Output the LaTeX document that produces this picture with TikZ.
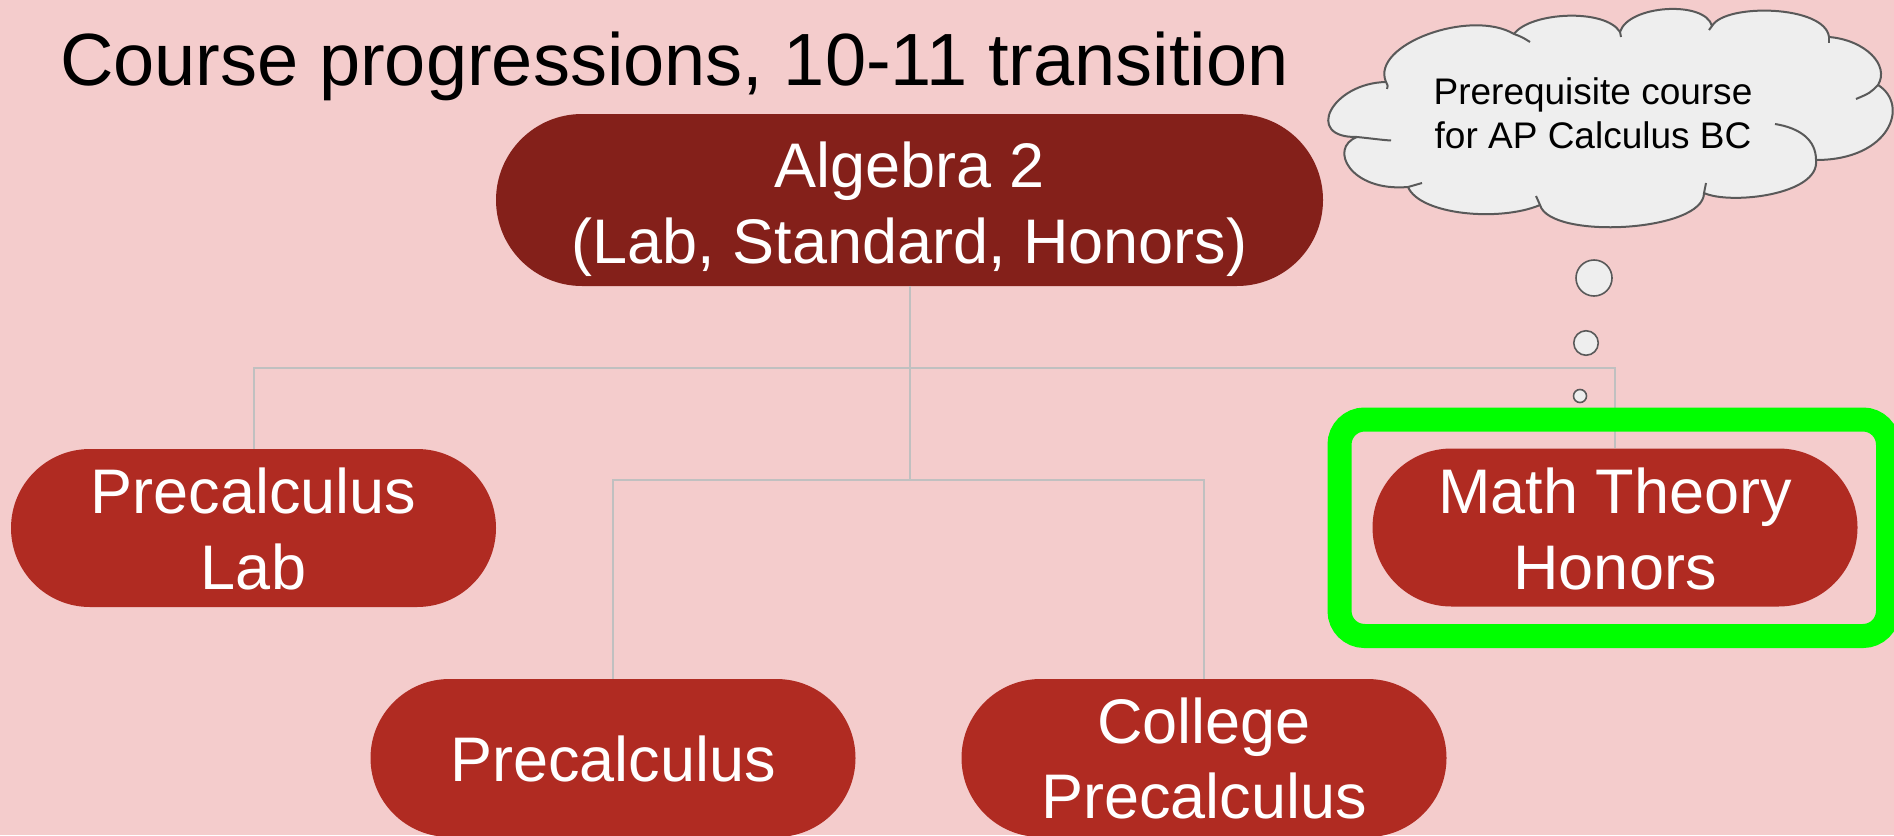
\documentclass[tikz,border=0pt]{standalone}
\usepackage{fontspec}
\setmainfont{Liberation Sans}
\definecolor{bg}{HTML}{F4CCCC}
\definecolor{algred}{HTML}{84201A}
\definecolor{boxred}{HTML}{B02B22}
\definecolor{connc}{HTML}{C0C0C0}
\definecolor{hlgreen}{HTML}{00FF00}
\definecolor{cloudfill}{HTML}{EEEEEE}
\definecolor{cloudline}{HTML}{595959}
\tikzset{
  darkpill/.style={fill=algred, rounded corners=86pt, minimum width=827pt, minimum height=172pt, inner sep=0pt},
  pill/.style={fill=boxred, rounded corners=79pt, minimum width=485pt, minimum height=158pt, inner sep=0pt},
  lbl/.style={text=white, font=\fontsize{63}{75.6}\selectfont, anchor=base, inner sep=0pt},
  conn/.style={draw=connc, line width=2pt},
  hlbox/.style={draw=hlgreen, line width=24pt, rounded corners=25pt, minimum width=548.5pt, minimum height=216.5pt, inner sep=0pt},
  cloudtext/.style={text=black, font=\fontsize{37}{43}\selectfont, anchor=base, inner sep=0pt},
  bubble/.style={circle, fill=cloudfill, draw=cloudline, line width=1.6pt, inner sep=0pt},
  cloudstroke/.style={draw=cloudline, line width=2pt}
}
\begin{document}
\begin{tikzpicture}[x=1pt,y=-1pt]
\useasboundingbox (0,0) rectangle (1894,835);
\clip (0,0) rectangle (1894,835);
\fill[bg] (0,0) rectangle (1894,835);

% title
\node[anchor=base west, inner sep=0pt, font=\fontsize{74}{88}\selectfont] (title) at (60,85) {Course progressions, 10-11 transition};

% boxes
\node[darkpill] (alg) at (909.5,200) {};
\node[lbl] (algA) at (909.5,187) {Algebra 2};
\node[lbl] (algB) at (909.5,263) {(Lab, Standard, Honors)};

\node[pill] (pcl) at (253.5,528) {};
\node[lbl] (pclA) at (253.5,513) {Precalculus};
\node[lbl] (pclB) at (253.5,589) {Lab};

\node[pill] (mth) at (1615,527.5) {};
\node[lbl] (mthA) at (1615,513) {Math Theory};
\node[lbl] (mthB) at (1615,589) {Honors};

\node[pill] (pc) at (613,758) {};
\node[lbl] (pcA) at (613,781) {Precalculus};

\node[pill] (cpc) at (1204,758) {};
\node[lbl] (cpcA) at (1204,743) {College};
\node[lbl] (cpcB) at (1204,818) {Precalculus};

% connectors
\coordinate (j1) at (909.5,368);
\coordinate (j2) at (909.5,480);
\draw[conn] (alg.south) -- (j2);
\draw[conn] (pcl.north) |- (j1) -| (mth.north);
\draw[conn] (pc.north) |- (j2) -| (cpc.north);

% highlight
\node[hlbox] (hl) at (1613.75,527.75) {};

% cloud
\filldraw[fill=cloudfill, draw=cloudline, line width=2pt, line join=round]
  (1357,137) .. controls (1303,138) and (1332,83) .. (1386,82)
  .. controls (1370,45) and (1470,8) .. (1514,34)
  .. controls (1530,12) and (1605,8) .. (1620,32)
  .. controls (1628,5) and (1705,0) .. (1712,26)
  .. controls (1725,3) and (1825,5) .. (1829,37)
  .. controls (1865,40) and (1890,65) .. (1878,85)
  .. controls (1910,105) and (1890,160) .. (1816,160)
  .. controls (1820,195) and (1730,205) .. (1704,193)
  .. controls (1704,232) and (1550,240) .. (1540,205)
  .. controls (1500,222) and (1420,215) .. (1408,187)
  .. controls (1350,192) and (1328,148) .. (1357,137) -- cycle;
\draw[cloudstroke] (1357,137) .. controls (1372,138.5) and (1382,140) .. (1391,140.5);
\draw[cloudstroke] (1386,82) .. controls (1388,86) .. (1387,89);
\draw[cloudstroke] (1514,34) .. controls (1522,37) .. (1530,42);
\draw[cloudstroke] (1620,32) -- (1621,37);
\draw[cloudstroke] (1712,26) -- (1709,30);
\draw[cloudstroke] (1829,37) -- (1829,43);
\draw[cloudstroke] (1878,85) .. controls (1870,93) .. (1856,99);
\draw[cloudstroke] (1816,160) .. controls (1816,140) and (1800,128) .. (1775,124);
\draw[cloudstroke] (1704,193) -- (1706,183);
\draw[cloudstroke] (1540,205) -- (1536,196);
\draw[cloudstroke] (1408,187) -- (1422,183);

\node[cloudtext] (ctA) at (1593,104) {Prerequisite course};
\node[cloudtext] (ctB) at (1593,148) {for AP Calculus BC};

% bubbles
\node[bubble, minimum size=36pt] (b1) at (1594,278) {};
\node[bubble, minimum size=24.5pt] (b2) at (1586,343) {};
\node[bubble, minimum size=13pt] (b3) at (1580,396) {};
\end{tikzpicture}
\end{document}
